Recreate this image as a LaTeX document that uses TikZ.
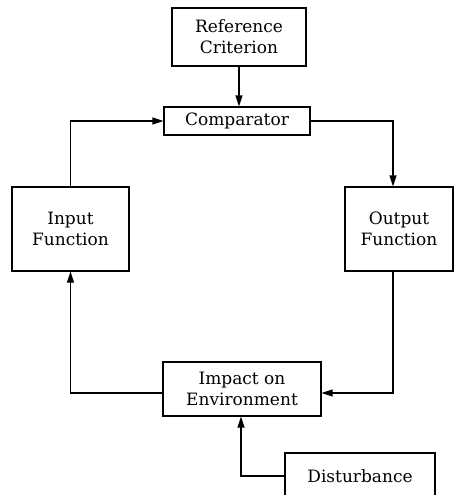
\documentclass[tikz,border=0pt]{standalone}
\usepackage{fontspec}
\setmainfont{DejaVu Serif}
\usetikzlibrary{arrows.meta}

\tikzset{
  block/.style={draw=black, line width=1.2pt, inner sep=0pt, align=center,
    font=\fontsize{17}{21}\selectfont},
  flow/.style={line width=1.2pt, -{Triangle[length=11pt,width=7pt]}}
}

\begin{document}
\begin{tikzpicture}[x=1pt, y=-1pt]
\useasboundingbox (0,0) rectangle (454,495);
\begin{scope}
\clip (0,0) rectangle (454,495);
\node (ref) [block, minimum width=134pt, minimum height=58pt] at (239, 37) {Reference\\Criterion};
\node (comp) [block, minimum width=146pt, minimum height=28pt] at (237, 121) {Comparator};
\node (inp) [block, minimum width=117pt, minimum height=84pt] at (70.5, 229) {Input\\Function};
\node (outp) [block, minimum width=108pt, minimum height=84pt] at (399, 229) {Output\\Function};
\node (imp) [block, minimum width=158pt, minimum height=54pt] at (242, 389) {Impact on\\Environment};
\node (dist) [block, minimum width=150pt, minimum height=46pt] at (360, 476) {Disturbance};
\coordinate (cr) at (393, 121);
\coordinate (or) at (393, 393);
\coordinate (il) at (70.5, 393);
\coordinate (ic) at (70.5, 121);
\coordinate (dl) at (241, 476);
\draw [flow] (ref.south) -- (comp.north -| ref.south);
\draw [flow] (comp.east) -- (cr) -- (outp.north -| cr);
\draw [flow] (outp.south -| or) -- (or) -- (imp.east |- or);
\draw [flow] (imp.west |- il) -- (il) -- (inp.south);
\draw [flow] (inp.north) -- (ic) -- (comp.west);
\draw [flow] (dist.west) -- (dl) -- (imp.south -| dl);
\end{scope}
\end{tikzpicture}
\end{document}
